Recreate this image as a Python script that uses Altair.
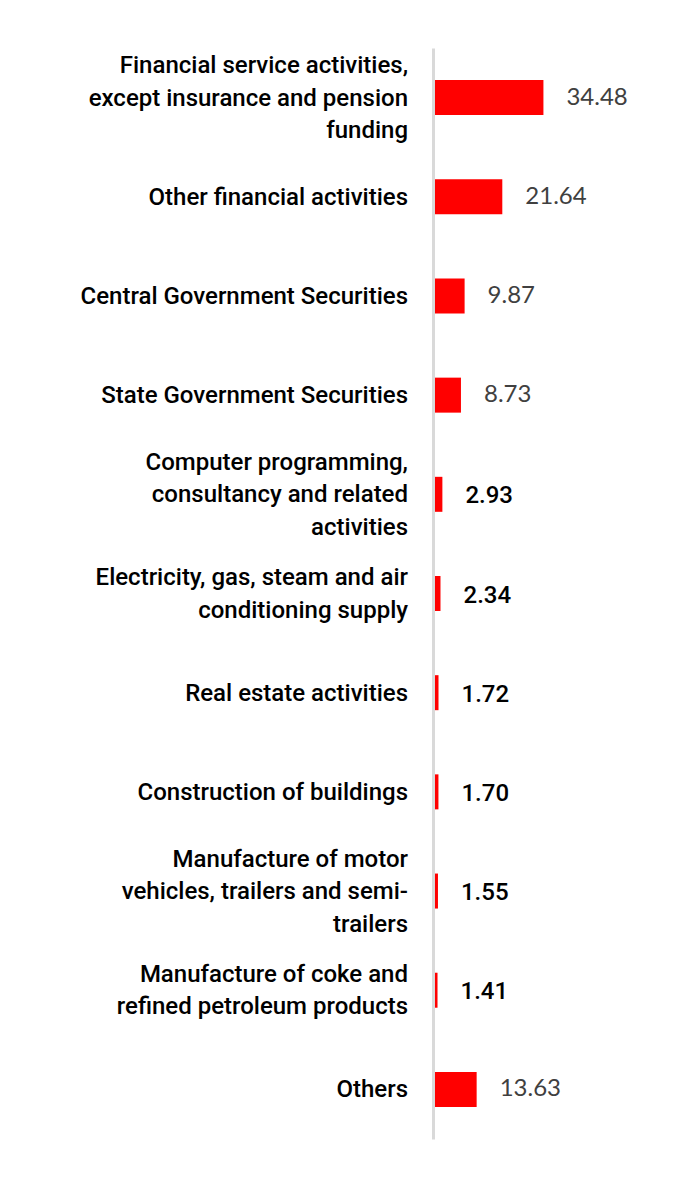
import altair as alt
import pandas as pd

categories = [
    "Financial service activities,\nexcept insurance and pension\nfunding",
    "Other financial activities",
    "Central Government Securities",
    "State Government Securities",
    "Computer programming,\nconsultancy and related\nactivities",
    "Electricity, gas, steam and air\nconditioning supply",
    "Real estate activities",
    "Construction of buildings",
    "Manufacture of motor\nvehicles, trailers and semi-\ntrailers",
    "Manufacture of coke and\nrefined petroleum products",
    "Others",
]
values = [34.48, 21.64, 9.87, 8.73, 2.93, 2.34, 1.72, 1.70, 1.55, 1.41, 13.63]
label_style = ["gray", "gray", "gray", "gray", "black", "black", "black", "black", "black", "black", "gray"]

df = pd.DataFrame({
    "order": list(range(len(categories))),
    "category": categories,
    "value": values,
    "label": [f"{v:.2f}" for v in values],
    "style": label_style,
    "nlines": [c.count("\n") + 1 for c in categories],
})

LH = 32.5

y = alt.Y("order:O", axis=alt.Axis(labels=False, ticks=False, title=None,
                                   domainColor="#d9d9d9", domainWidth=3, zindex=1),
          scale=alt.Scale(paddingInner=0, paddingOuter=0))
xs = alt.Scale(domain=[0, 76.5])
xv = alt.X("value:Q", scale=xs, axis=None)

base = alt.Chart(df)

bars = base.mark_bar(color="#ff0000", size=35).encode(x=xv, y=y)

gray_lbl = base.transform_filter(alt.datum.style == "gray").mark_text(
    align="left", baseline="middle", dx=23, font="Lato", fontSize=24, color="#404040"
).encode(x=xv, y=y, text="label:N")

black_lbl = base.transform_filter(alt.datum.style == "black").mark_text(
    align="left", baseline="middle", dx=23, dy=2, font="Roboto", fontSize=24,
    fontWeight=500, color="#000000"
).encode(x=xv, y=y, text="label:N")

cat_layers = []
for n in (1, 2, 3):
    cat_layers.append(
        base.transform_filter(alt.datum.nlines == n).mark_text(
            align="right", baseline="middle", lineBreak="\n", lineHeight=LH,
            dy=-(n - 1) * LH / 2 + 1,
            font="Roboto", fontSize=24, fontWeight=500, color="#000000"
        ).encode(x=alt.value(-25), y=y, text="category:N")
    )

chart = alt.layer(bars, gray_lbl, black_lbl, *cat_layers).properties(
    width=245, height=1091,
    autosize=alt.AutoSizeParams(type="none"),
    padding={"left": 425, "top": 40, "right": 0, "bottom": 40},
    background="white",
).configure_view(stroke=None)

chart.save("out.html", embed_options={"renderer": "svg", "actions": False})
